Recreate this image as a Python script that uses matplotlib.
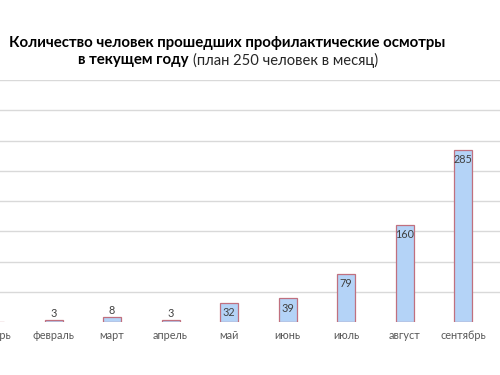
import matplotlib
matplotlib.use('Agg')
from matplotlib import pyplot as plt

months = ['январь', 'февраль', 'март', 'апрель', 'май', 'июнь', 'июль', 'август', 'сентябрь']
values = [0, 3, 8, 3, 32, 39, 79, 160, 285]
grid_ticks = [50, 100, 150, 200, 250, 300, 350, 400]

W, H = 500, 375
fig = plt.figure(figsize=(W / 100, H / 100), dpi=100)
plt.rcParams['font.family'] = ['Lato', 'DejaVu Sans']

# axes runs past the left edge, so январь is cut off like in the original
ax = fig.add_axes([-40 / W, (H - 322) / H, 540 / W, 242 / H])
x = list(range(len(months)))
ax.bar(x, values, width=0.31, color='#B4D3F7', edgecolor='#C0707F', linewidth=0.9, zorder=3)
ax.set_xlim(-0.6, 8.63)
ax.set_ylim(0, 400)
ax.set_yticks(grid_ticks)
ax.yaxis.grid(True, color='#D9D9D9', linewidth=1, zorder=0)
ax.set_yticklabels([])
ax.tick_params(left=False, bottom=False)
for s in ax.spines.values():
    s.set_visible(False)
ax.set_xticks(x)
ax.set_xticklabels(months, fontsize=7.8, color='#595959')
ax.tick_params(axis='x', pad=2)

for xi, v in zip(x, values):
    if v == 0:
        continue
    if v > 20:
        ax.annotate(str(v), (xi, v), xytext=(0, -7), textcoords='offset points',
                    ha='center', va='center', fontsize=7.8, color='#404040', zorder=4)
    else:
        ax.annotate(str(v), (xi, v), xytext=(0, 5), textcoords='offset points',
                    ha='center', va='center', fontsize=7.8, color='#404040', zorder=4)

fig.text(227 / W, 1 - 43 / H, 'Количество человек прошедших профилактические осмотры',
         ha='center', va='center', fontsize=10.8, fontweight='bold', color='#000000')
fig.text(189 / W, 1 - 60 / H, 'в текущем году', ha='right', va='center',
         fontsize=10.8, fontweight='bold', color='#000000')
fig.text(193 / W, 1 - 60 / H, '(план 250 человек в месяц)', ha='left', va='center',
         fontsize=10.6, color='#262626')

fig.savefig('out.png', dpi=100)
